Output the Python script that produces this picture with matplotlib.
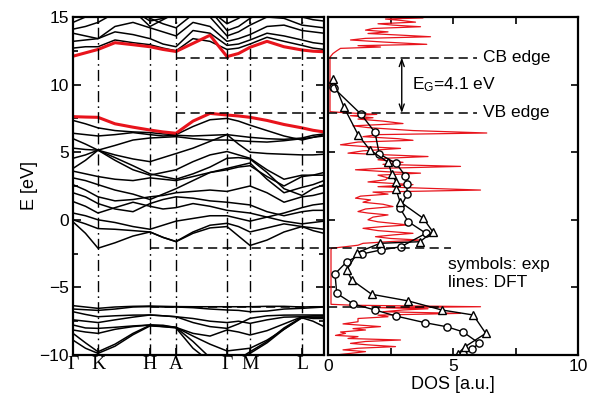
import matplotlib
matplotlib.use("Agg")
import matplotlib.pyplot as plt
import numpy as np

plt.rcParams['font.family'] = ['Liberation Sans', 'DejaVu Sans']
plt.rcParams['mathtext.default'] = 'regular'

# ---------------- k-path ----------------
k_grid = [0, 12.5, 25, 42, 60, 77, 90, 103, 120, 137, 154, 165.5, 177, 194, 211, 229, 240, 251]
k_ticks = [0, 25, 77, 103, 154, 177, 229]
k_labels = ['Γ', 'K', 'H', 'A', 'Γ', 'M', 'L']
k_end = 251

# red bands (band edges)
cb_min = [12.1, 12.35, 12.6, 13.1, 12.95, 12.8, 12.6, 12.45, 13.05, 13.65, 12.07, 12.3, 12.76, 13.2, 12.8, 12.56, 12.47, 12.43]
vb_max = [7.63, 7.6, 7.58, 7.1, 6.85, 6.64, 6.5, 6.4, 7.3, 7.87, 7.75, 7.68, 7.58, 7.35, 7.05, 6.8, 6.62, 6.5]

cond_bands = [
    [12.7, 12.8, 12.8, 13.3, 13.1, 12.95, 12.7, 12.5, 13.4, 13.2, 12.6, 12.7, 13.0, 13.5, 13.2, 12.9, 12.7, 12.6],
    [13.2, 13.3, 13.4, 13.9, 13.7, 13.4, 13.0, 12.8, 14.0, 13.8, 12.9, 13.0, 13.3, 13.8, 13.6, 13.3, 13.1, 13.0],
    [13.8, 13.6, 13.4, 14.3, 14.6, 14.2, 13.9, 13.6, 14.6, 14.3, 13.2, 13.4, 13.7, 14.3, 14.4, 14.0, 13.9, 13.8],
    [14.1, 14.3, 14.6, 15.3, 15.5, 14.9, 14.5, 14.2, 15.2, 15.0, 13.6, 13.9, 14.4, 15.0, 14.9, 14.4, 14.3, 14.2],
    [14.6, 15.0, 15.3, 15.5, 15.5, 14.7, 14.9, 15.2, 15.5, 15.5, 14.0, 14.3, 14.9, 15.5, 15.5, 15.0, 14.8, 14.7],
    [15.5, 15.5, 15.5, 15.5, 15.5, 14.3, 14.8, 15.3, 15.5, 15.5, 14.5, 14.9, 15.5, 15.5, 15.5, 15.3, 15.2, 15.1],
]

val_bands = [
    [7.35, 7.1, 6.8, 6.6, 6.5, 6.45, 6.35, 6.3, 6.9, 7.4, 7.5, 7.3, 7.0, 6.6, 6.2, 5.9, 6.1, 6.3],
    [6.4, 6.3, 6.2, 6.3, 6.45, 6.3, 6.2, 6.25, 6.2, 6.25, 6.3, 6.2, 6.1, 6.0, 5.95, 6.05, 6.25, 6.35],
    [6.0, 5.6, 5.15, 5.5, 5.9, 6.05, 6.1, 6.15, 6.0, 5.9, 5.9, 5.85, 5.8, 5.75, 5.85, 6.0, 6.1, 6.2],
    [5.3, 5.2, 5.15, 4.8, 4.5, 4.3, 4.6, 4.9, 5.3, 5.8, 6.3, 5.6, 5.0, 4.9, 4.85, 4.8, 4.8, 4.85],
    [4.55, 4.8, 5.15, 4.4, 3.7, 3.3, 3.5, 3.7, 4.3, 4.8, 5.05, 4.8, 4.55, 3.7, 3.0, 3.3, 3.3, 3.3],
    [3.8, 4.4, 5.15, 4.6, 4.0, 3.4, 3.2, 3.0, 3.4, 3.9, 4.55, 4.6, 4.5, 3.5, 2.3, 1.8, 2.3, 2.6],
    [3.6, 3.4, 3.2, 3.0, 2.9, 3.1, 3.0, 2.9, 3.2, 3.5, 3.8, 4.0, 4.2, 3.0, 2.0, 2.4, 2.6, 2.9],
    [3.1, 2.9, 2.6, 2.2, 1.9, 1.5, 1.9, 2.3, 2.9, 3.5, 3.7, 3.9, 4.0, 3.2, 2.5, 3.2, 3.3, 3.5],
    [2.6, 2.2, 1.7, 1.4, 1.5, 1.7, 1.8, 2.0, 2.1, 2.2, 2.1, 2.3, 2.5, 2.0, 1.3, 1.7, 1.8, 2.0],
    [2.0, 1.7, 1.2, 0.8, 0.6, 1.2, 1.5, 1.7, 1.6, 1.4, 1.3, 1.2, 1.1, 0.6, 0.3, 0.6, 0.7, 0.7],
    [1.35, 1.0, 0.5, 0.9, 1.3, 1.0, 0.8, 0.9, 1.2, 1.0, 0.7, 0.6, 0.5, 0.2, -0.1, -0.3, -0.2, -0.1],
    [0.5, 0.3, 0.0, -0.2, -0.5, -0.7, -0.4, -0.1, 0.1, 0.3, 0.3, 0.1, -0.1, 0.2, 0.5, 0.9, 1.1, 1.2],
    [0.0, -0.3, -0.65, -0.7, -0.8, -0.9, -1.3, -1.6, -0.9, -0.4, -0.26, -0.5, -0.9, -0.6, -0.3, -0.5, -0.8, -1.0],
    [-0.15, -1.0, -2.1, -1.7, -1.2, -0.9, -1.3, -1.62, -1.0, -0.6, -0.5, -1.2, -1.9, -1.5, -0.9, -0.5, -0.6, -0.7],
]

low_bands = [
    [-6.35, -6.45, -6.55, -6.45, -6.4, -6.38, -6.4, -6.42, -6.43, -6.43, -6.43, -6.43, -6.43, -6.4, -6.4, -6.45, -6.43, -6.43],
    [-6.6, -6.65, -6.7, -6.6, -6.45, -6.42, -6.45, -6.45, -6.5, -6.6, -6.67, -6.7, -6.8, -6.75, -6.6, -6.55, -6.5, -6.45],
    [-6.8, -7.0, -7.17, -7.1, -7.05, -7.04, -7.1, -7.17, -7.6, -7.9, -8.03, -7.7, -7.29, -7.1, -7.05, -7.04, -7.04, -7.04],
    [-7.4, -7.5, -7.6, -7.4, -7.2, -7.04, -7.1, -7.17, -7.3, -7.5, -7.6, -7.5, -7.66, -7.4, -7.2, -7.17, -7.1, -7.1],
    [-7.78, -8.0, -8.03, -7.95, -7.85, -7.78, -7.8, -7.96, -8.6, -9.2, -9.7, -9.6, -9.5, -8.9, -8.1, -7.2, -7.2, -7.2],
    [-8.15, -8.3, -8.4, -8.1, -7.9, -7.78, -7.85, -7.96, -8.4, -8.6, -8.15, -8.3, -8.52, -8.2, -7.7, -7.17, -7.2, -7.2],
    [-8.4, -9.1, -9.76, -9.2, -8.4, -7.8, -7.9, -7.96, -9.0, -10.2, -10.5, -10.3, -9.76, -9.0, -8.0, -7.2, -7.3, -7.3],
    [-8.9, -9.5, -9.88, -9.35, -8.5, -7.85, -7.9, -8.0, -9.5, -10.5, -10.5, -10.4, -9.88, -9.1, -8.1, -7.25, -7.5, -7.9],
]

# ---------------- DOS ----------------
dft_E = [15.0, 14.93, 14.85, 14.75, 14.62, 14.5, 14.4, 14.28, 14.15, 14.03, 13.9, 13.78, 13.65, 13.54,
         13.42, 13.3, 13.15, 12.98, 12.88, 12.78, 12.68, 12.5, 12.3, 12.12, 12.05, 8.0, 7.93, 7.8, 7.7,
         7.55, 7.45, 7.3, 7.12, 6.95, 6.82, 6.6, 6.42, 6.3, 6.15, 6.0, 5.88, 5.75, 5.55, 5.4, 5.28, 5.1,
         4.93, 4.8, 4.68, 4.55, 4.44, 4.25, 4.1, 3.95, 3.8, 3.7, 3.55, 3.45, 3.3, 3.1, 2.96, 2.8, 2.6,
         2.45, 2.2, 2.05, 1.9, 1.75, 1.6, 1.47, 1.3, 1.15, 0.98, 0.8, 0.61, 0.5, 0.36, 0.2, 0.0, -0.15,
         -0.38, -0.5, -0.63, -0.8, -1.0, -1.12, -1.25, -1.38, -1.5, -1.62, -1.74, -1.88, -1.99, -2.1,
         -2.2, -6.25, -6.32, -6.43, -6.5, -6.58, -6.67, -6.8, -6.92, -7.05, -7.17, -7.3, -7.54, -7.7,
         -7.9, -8.05, -8.15, -8.3, -8.4, -8.55, -8.64, -8.78, -8.89, -9.0, -9.14, -9.25, -9.38, -9.5,
         -9.62, -9.75, -9.88, -10.0]
dft_D = [2.5, 3.8, 2.3, 2.9, 3.5, 2.0, 2.6, 3.7, 1.8, 1.5, 2.4, 1.6, 3.0, 4.1,
         1.5, 0.9, 2.2, 3.95, 1.2, 2.1, 0.5, 0.35, 0.2, 0.12, 0.08, 0.08, 0.6, 1.95, 0.9,
         1.8, 1.2, 2.2, 3.0, 1.0, 1.6, 3.4, 6.35, 2.0, 1.4, 2.8, 3.4, 1.2, 0.5, 1.6, 2.9, 1.4,
         0.8, 2.4, 4.0, 2.3, 2.0, 3.0, 2.2, 5.3, 2.0, 1.1, 2.4, 3.7, 2.0, 2.4, 2.3, 1.6, 3.4,
         2.0, 6.1, 1.8, 2.4, 1.3, 1.1, 1.7, 1.4, 2.2, 2.6, 1.5, 1.2, 1.6, 2.4, 1.8, 1.6, 2.0,
         3.2, 2.2, 1.4, 2.0, 3.4, 2.6, 1.9, 2.5, 3.7, 2.4, 1.4, 1.2, 0.7, 0.15,
         0.12, 0.12, 1.0, 6.1, 2.0, 4.0, 3.0, 2.2, 5.3, 2.0, 2.4, 1.2, 1.2, 0.6,
         2.1, 1.0, 1.5, 0.5, 0.7, 0.3, 1.2, 0.8, 2.9, 1.5, 0.9, 1.6, 2.7, 1.2,
         0.6, 1.5, 0.9, 0.3]

circ_E = [9.8, 9.73, 7.83, 6.47, 4.87, 4.18, 3.26, 2.63, 1.89, 0.85, -0.14, -1.0, -1.99, -2.23, -2.53,
          -3.1, -4.0, -5.44, -6.23, -6.67, -7.12, -7.61, -7.91, -8.28, -9.14, -9.56, -9.95]
circ_D = [0.19, 0.24, 1.31, 1.88, 2.05, 2.72, 3.09, 3.15, 3.17, 2.88, 3.21, 3.92, 2.92, 2.12, 1.35,
          0.75, 0.28, 0.35, 1.01, 1.88, 2.72, 3.88, 4.75, 5.39, 6.05, 5.75, 5.39]
tri_E = [10.41, 8.32, 6.27, 5.16, 4.25, 3.39, 2.82, 2.26, 1.34, 0.11, -0.88, -1.62, -1.74, -2.43,
         -3.71, -4.45, -5.51, -6.0, -6.67, -7.04, -8.4, -9.39, -9.9]
tri_D = [0.19, 0.64, 1.21, 1.68, 2.41, 2.55, 2.72, 2.72, 2.88, 3.81, 4.19, 3.68, 2.08, 1.17,
         0.75, 0.95, 1.75, 3.21, 4.55, 5.81, 6.31, 5.48, 5.2]

cb_edge = 12.0
vb_edge = 7.9
gap_text = 'E$_{G}$=4.1 eV'

# ---------------- figure ----------------
fig = plt.figure(figsize=(5.89, 4.0), dpi=100)
ax1 = fig.add_axes([73/589, 45/400, 251/589, 338/400])
ax2 = fig.add_axes([328/589, 45/400, 250/589, 338/400])

for b in cond_bands + val_bands + low_bands:
    ax1.plot(k_grid, b, color='black', lw=1.1, solid_joinstyle='round')
ax1.plot(k_grid, vb_max, color='#e8141c', lw=2.2)
ax1.plot(k_grid, cb_min, color='#e8141c', lw=2.2)

for kx in k_ticks[1:]:
    ax1.axvline(kx, color='black', lw=1.0, linestyle=(0, (8, 3, 1.2, 3)))

dash = (0, (6, 3.5))
ax1.plot([k_ticks[3], k_end], [cb_edge, cb_edge], color='black', lw=1.1, linestyle=dash)
ax1.plot([k_ticks[3], k_end], [vb_edge, vb_edge], color='black', lw=1.1, linestyle=dash)
ax1.plot([k_ticks[2], k_end], [-2.05, -2.05], color='black', lw=1.1, linestyle=dash)
ax1.plot([k_ticks[2], k_end], [-6.45, -6.45], color='black', lw=1.1, linestyle=dash)

ax1.set_xlim(0, k_end)
ax1.set_ylim(-10, 15)
ax1.set_xticks(k_ticks)
ax1.set_xticklabels(k_labels, fontfamily='Liberation Serif', fontsize=14)
ax1.set_yticks([-10, -5, 0, 5, 10, 15])
ax1.set_yticks([-7.5, -2.5, 2.5, 7.5, 12.5], minor=True)
ax1.tick_params(axis='y', which='major', direction='in', length=6, width=1.2, labelsize=12.5,
                left=True, right=True, pad=3)
ax1.tick_params(axis='y', which='minor', direction='in', length=3.5, width=1.2, left=True, right=True)
ax1.tick_params(axis='x', which='major', direction='in', length=5, width=1.2, top=True, bottom=True, pad=1)
ax1.set_ylabel('E [eV]', fontsize=13, labelpad=1)
for s in ax1.spines.values():
    s.set_linewidth(1.6)

# DOS panel
ax2.plot(dft_D, dft_E, color='#e8141c', lw=0.9)
ax2.plot(circ_D, circ_E, color='black', lw=1.0, marker='o', ms=5.2, mfc='white', mec='black', mew=1.0)
ax2.plot(tri_D, tri_E, color='black', lw=1.0, marker='^', ms=6.0, mfc='white', mec='black', mew=1.0)

ax2.plot([0, 5.95], [cb_edge, cb_edge], color='black', lw=1.1, linestyle=dash)
ax2.plot([0, 5.95], [vb_edge, vb_edge], color='black', lw=1.1, linestyle=dash)
ax2.plot([0, 4.9], [-2.05, -2.05], color='black', lw=1.1, linestyle=dash)
ax2.plot([0, 4.6], [-6.45, -6.45], color='black', lw=1.1, linestyle=dash)

ax2.annotate('', xy=(2.95, vb_edge), xytext=(2.95, cb_edge),
             arrowprops=dict(arrowstyle='<->,head_length=0.5,head_width=0.18', lw=1.0, color='black',
                             shrinkA=0, shrinkB=0))
ax2.text(3.35, 10.0, gap_text, fontsize=12.5, ha='left', va='center')
ax2.text(6.2, cb_edge, 'CB edge', fontsize=12.5, ha='left', va='center')
ax2.text(6.2, vb_edge, 'VB edge', fontsize=12.5, ha='left', va='center')
ax2.text(4.8, -3.3, 'symbols: exp', fontsize=12.5, ha='left', va='center')
ax2.text(4.8, -4.65, 'lines: DFT', fontsize=12.5, ha='left', va='center')

ax2.set_xlim(0, 10)
ax2.set_ylim(-10, 15)
ax2.set_xticks([0, 5, 10])
ax2.set_xticks([2.5, 7.5], minor=True)
ax2.set_yticks([-10, -5, 0, 5, 10, 15])
ax2.set_yticklabels([])
ax2.tick_params(axis='both', which='both', direction='in', length=5, width=1.2,
                top=True, bottom=True, left=True, right=True, labelsize=12.5)
ax2.tick_params(axis='x', pad=3)
ax2.set_xlabel('DOS [a.u.]', fontsize=13, labelpad=1)
for s in ax2.spines.values():
    s.set_linewidth(1.6)

fig.savefig('out.png', dpi=100)
